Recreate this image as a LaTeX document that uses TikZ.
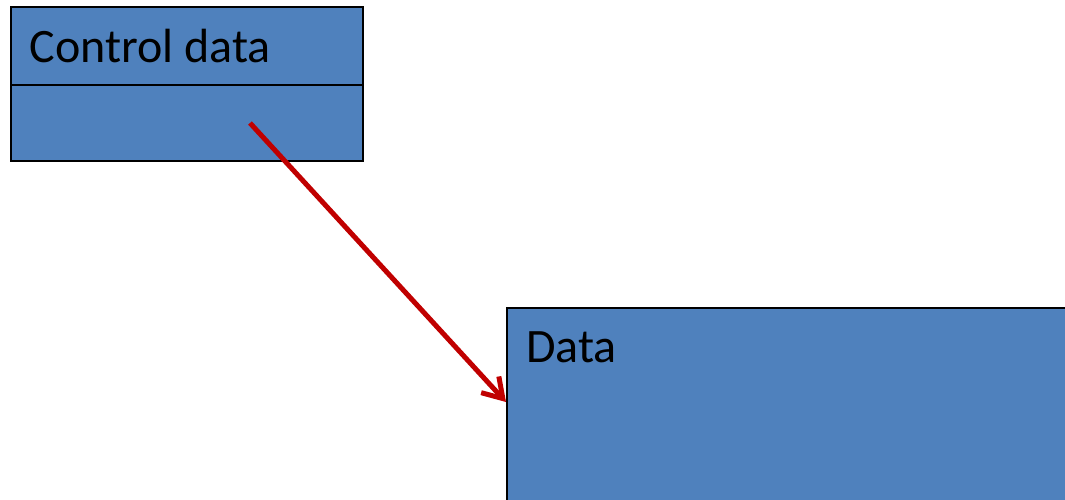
\documentclass[tikz,border=0pt]{standalone}
\usepackage{fontspec}
\setmainfont{Carlito}
\usetikzlibrary{arrows.meta}
\definecolor{boxblue}{HTML}{4F81BD}
\definecolor{linkred}{HTML}{C00000}
\begin{document}
\begin{tikzpicture}[x=1pt,y=-1pt,
  panel/.style={draw=black,line width=1.5pt,fill=boxblue,inner sep=0pt,anchor=north west},
  caption/.style={anchor=base west,inner sep=0pt,font=\fontsize{48}{52}\selectfont},
  link/.style={draw=linkred,line width=5pt,-{Straight Barb[length=19pt,width=24pt]}}]
\useasboundingbox (0,0) rectangle (1065,499);
\clip (0,0) rectangle (1065,499);
% control record: header and body compartments
\node[panel,minimum width=352pt,minimum height=78pt] (ctrlhead) at (10,6) {};
\node[panel,minimum width=352pt,minimum height=76pt] (ctrlbody) at (10,84) {};
\node[caption] (ctrltext) at (29.5,62) {Control data};
% data record, running off the page edge
\node[panel,line width=2pt,minimum width=600pt,minimum height=230pt] (data) at (506,307) {};
\node[caption] (datatext) at (526,362) {Data};
% pointer from the control record into the data record
\coordinate (src) at (250,123);
\coordinate (dst) at ([yshift=-95pt]data.north west);
\draw[link] (src) -- (dst);
\end{tikzpicture}
\end{document}
